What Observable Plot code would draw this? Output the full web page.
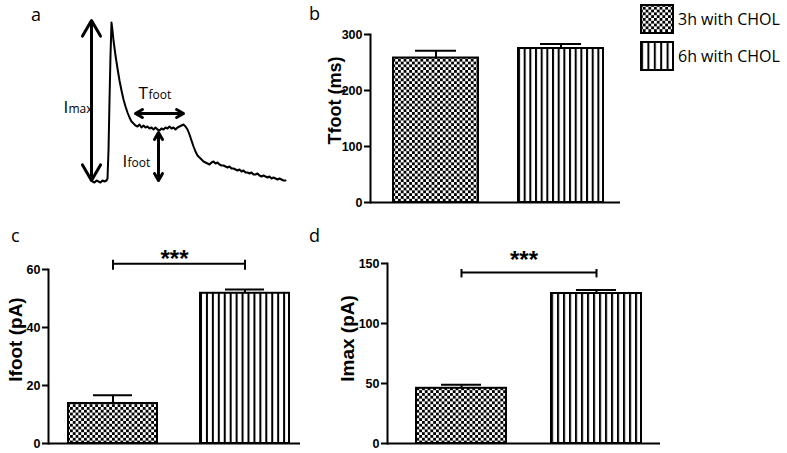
<!DOCTYPE html>
<html><head><meta charset="utf-8">
<script src="https://cdn.jsdelivr.net/npm/d3@7"></script>
<script src="https://cdn.jsdelivr.net/npm/@observablehq/plot@0.6"></script>
<style>
body{margin:0;background:#fff;}
#root{position:relative;width:787px;height:453px;overflow:hidden;font-family:"Open Sans",sans-serif;color:#000;}
.panel{position:absolute;}
.letter{position:absolute;font-size:18px;line-height:1;font-family:"Open Sans",sans-serif;}
.legend{position:absolute;left:640px;display:flex;align-items:center;font-size:16px;font-family:"Open Sans",sans-serif;white-space:nowrap;}
.legend svg{margin-right:4px;display:block;}
.bars svg g[aria-label="y-axis tick label"] text{font-weight:bold;font-size:12.5px;font-family:"Liberation Sans",Arial,sans-serif;fill:#000;}
</style></head><body>
<svg width="0" height="0" style="position:absolute">
 <defs>
  <pattern id="checker" patternUnits="userSpaceOnUse" width="5.6" height="5.6">
   <rect width="5.6" height="5.6" fill="#fff"/>
   <rect width="2.8" height="2.8" fill="#000"/>
   <rect x="2.8" y="2.8" width="2.8" height="2.8" fill="#000"/>
  </pattern>
  <pattern id="stripes" patternUnits="objectBoundingBox" width="0.0667" height="1">
   <rect width="40" height="2000" fill="#fff"/>
   <rect width="2" height="2000" fill="#000"/>
  </pattern>
  <pattern id="stripesLegend" patternUnits="objectBoundingBox" width="0.2" height="1">
   <rect width="40" height="2000" fill="#fff"/>
   <rect width="2" height="2000" fill="#000"/>
  </pattern>
 </defs>
</svg>
<div id="root"></div>
<script>
// ---- data ----
const groups = ["3h with CHOL", "6h with CHOL"];
const tfootMean = [258, 275];
const tfootErr = [13, 8];
const ifootMean = [13.8, 51.8];
const ifootErr = [2.8, 1.3];
const imaxMean = [46, 125];
const imaxErr = [3, 3];
const tfootTicks = [0, 100, 200, 300];
const ifootTicks = [0, 20, 40, 60];
const imaxTicks = [0, 50, 100, 150];
const panelLetters = ["a", "b", "c", "d"];
const sigLabel = "***";

// example amperometric trace (panel a), arbitrary units
const traceTime = [0,2,4,6,8,10,12,14,15,16,17,18,19,20,21,23,25,27,29,31,33,35,37,39,41,43,45,47,49,51,53,55,57,59,61,63,65,67,69,71,73,75,77,79,81,83,85,87,89,91,93,95,97,99,101,103,105,107,109,111,113,115,117,119,121,123,125,127,129,131,133,135,137,139,141,143,145,147,149,151,153,155,157,159,161,163,165,167,169,171,173,175,177,179,181,183,185,187,189,191,193];
const traceCurrent = [0,-1,1,0,-1,1,0,1,3,31,81,126,159,151,141,126,113,101,91,82,75,69,64,60,58,56,55,57,54,56,54,55,53,54,52,54,52,51,53,52,54,53,55,53,54,52,54,55,56,57,55,52,47,41,35,30,26,24,22,20,19,18,17,19,20,18,19,17,16,16,15,14,15,13,13,12,11,12,10,11,9,9,8,9,7,7,8,6,5,6,5,4,5,3,4,3,2,3,2,1,1];

// annotation arrows (double-headed): [mid -> end1], [mid -> end2]
const annArrows = [
  {x1: -1, y1: 81, x2: -1, y2: 161}, {x1: -1, y1: 81, x2: -1, y2: 1},     // Imax
  {x1: 67, y1: 68, x2: 43, y2: 68}, {x1: 67, y1: 68, x2: 91, y2: 68},     // Tfoot
  {x1: 66, y1: 25, x2: 66, y2: 49}, {x1: 66, y1: 25, x2: 66, y2: 1}       // Ifoot
];
const annMain = [{t: -29, i: 69, s: "I"}, {t: 46, i: 83, s: "T"}, {t: 30, i: 15, s: "I"}];
const annSub = [{t: -24, i: 69, s: "max"}, {t: 56, i: 83, s: "foot"}, {t: 35, i: 15, s: "foot"}];

const root = document.getElementById("root");
function place(node, left, top, cls) {
  const d = document.createElement("div");
  d.className = "panel " + (cls || "");
  d.style.left = left + "px"; d.style.top = top + "px";
  d.appendChild(node); root.appendChild(d);
}

// ---- panel a ----
const trace = traceTime.map((t, k) => ({t, i: traceCurrent[k]}));
const plotA = Plot.plot({
  width: 300, height: 215,
  marginLeft: 92, marginRight: 15, marginTop: 20, marginBottom: 34,
  x: {domain: [0, 193], axis: null},
  y: {domain: [0, 161], axis: null},
  style: {background: "transparent", overflow: "visible", fontFamily: "'Open Sans', sans-serif"},
  marks: [
    Plot.line(trace, {x: "t", y: "i", stroke: "#000", strokeWidth: 2}),
    Plot.arrow(annArrows, {x1: "x1", y1: "y1", x2: "x2", y2: "y2", stroke: "#000", strokeWidth: 3, headLength: 9}),
    Plot.text(annMain, {x: "t", y: "i", text: "s", textAnchor: "start", lineAnchor: "bottom", fontSize: 17, fill: "#000"}),
    Plot.text(annSub, {x: "t", y: "i", text: "s", textAnchor: "start", lineAnchor: "bottom", fontSize: 12, fill: "#000"})
  ]
});
place(plotA, 0, 0);

// ---- bar panels ----
function barPanel(o) {
  const data = groups.map((g, k) => ({g, v: o.means[k], top: o.means[k] + o.errs[k]}));
  const marks = [
    Plot.barY(data.filter(d => d.g === groups[0]), {x: "g", y: "v", fill: "url(#checker)", stroke: "#000", strokeWidth: 2}),
    Plot.barY(data.filter(d => d.g === groups[1]), {x: "g", y: "v", fill: "url(#stripes)", stroke: "#000", strokeWidth: 2}),
    Plot.ruleX(data, {x: "g", y1: "v", y2: "top", stroke: "#000", strokeWidth: 2}),
    Plot.tickY(data, {x: "g", y: "top", stroke: "#000", strokeWidth: 2, insetLeft: o.capInset, insetRight: o.capInset}),
    Plot.ruleY([0], {stroke: "#000", strokeWidth: 2}),
    Plot.frame({anchor: "left", stroke: "#000", strokeWidth: 2}),
    Plot.axisY({ticks: o.ticks, tickSize: 6, tickPadding: 2, stroke: "#000", strokeWidth: 2, label: null,
      fontSize: 12.5, fontWeight: "bold", fontFamily: "'Liberation Sans', Arial, sans-serif", fill: "#000"}),
    Plot.text([o.label], {text: d => d, frameAnchor: "left", textAnchor: "middle", rotate: -90, dx: o.labelDx, dy: o.labelDy, fontSize: o.labelSize, fontWeight: "bold", fontFamily: "'Liberation Sans', Arial, sans-serif", fill: "#000"})
  ];
  if (o.sig) {
    const s = o.sig;
    marks.push(
      Plot.link([s], {x1: () => groups[0], x2: () => groups[1], y1: "y", y2: "y", stroke: "#000", strokeWidth: 2}),
      Plot.ruleX(groups, {x: d => d, y1: s.lo, y2: s.hi, stroke: "#000", strokeWidth: 2}),
      Plot.text([s], {y: "starY", text: () => sigLabel, fontSize: 24, fontWeight: "bold", fontFamily: "'Liberation Sans', Arial, sans-serif", fill: "#000"})
    );
  }
  const p = Plot.plot({
    width: o.width, height: o.height,
    marginLeft: o.ml, marginRight: o.mr, marginTop: o.mt, marginBottom: o.mb,
    x: {domain: groups, axis: null, paddingInner: o.pi, paddingOuter: o.po, align: o.align},
    y: {domain: o.domain},
    style: {background: "transparent", overflow: "visible", color: "#000"},
    marks
  });
  return p;
}

place(barPanel({
  means: tfootMean, errs: tfootErr, ticks: tfootTicks, domain: [0, 300],
  label: "Tfoot (ms)", labelSize: 18, labelDx: -35, labelDy: -18,
  width: 330, height: 215, ml: 70, mr: 10, mt: 34, mb: 13,
  pi: 0.32, po: 0.16, align: 0.575, capInset: 22
}), 300, 0, "bars");

place(barPanel({
  means: ifootMean, errs: ifootErr, ticks: ifootTicks, domain: [0, 60],
  label: "Ifoot (pA)", labelSize: 19, labelDx: -33, labelDy: -17,
  width: 310, height: 228, ml: 48, mr: 10, mt: 44, mb: 10,
  pi: 0.326, po: 0.117, align: 0.645, capInset: 25,
  sig: {y: 62, lo: 59.7, hi: 63.2, starY: 63.5}
}), 0, 225, "bars");

place(barPanel({
  means: imaxMean, errs: imaxErr, ticks: imaxTicks, domain: [0, 150],
  label: "Imax (pA)", labelSize: 19, labelDx: -40, labelDy: -15,
  width: 360, height: 228, ml: 77, mr: 10, mt: 38, mb: 10,
  pi: 0.331, po: 0.17, align: 0.6, capInset: 25,
  sig: {y: 142.5, lo: 138, hi: 145, starY: 153}
}), 310, 225, "bars");

// ---- panel letters ----
[[31, 5], [309, 4], [11, 226], [309, 226]].forEach(([x, y], k) => {
  const d = document.createElement("div");
  d.className = "letter"; d.textContent = panelLetters[k];
  d.style.left = x + "px"; d.style.top = y + "px";
  root.appendChild(d);
});

// ---- legend ----
const legendFills = ["url(#checker)", "url(#stripesLegend)"];
[4, 41].forEach((top, k) => {
  const row = document.createElement("div");
  row.className = "legend"; row.style.top = top + "px";
  const ns = "http://www.w3.org/2000/svg";
  const sv = document.createElementNS(ns, "svg");
  sv.setAttribute("width", 34); sv.setAttribute("height", 30);
  const r = document.createElementNS(ns, "rect");
  r.setAttribute("x", 1); r.setAttribute("y", 1); r.setAttribute("width", 32); r.setAttribute("height", 28);
  r.setAttribute("fill", legendFills[k]); r.setAttribute("stroke", "#000"); r.setAttribute("stroke-width", 2);
  sv.appendChild(r); row.appendChild(sv);
  const sp = document.createElement("span"); sp.textContent = groups[k];
  row.appendChild(sp); root.appendChild(row);
});
</script>
</body></html>
